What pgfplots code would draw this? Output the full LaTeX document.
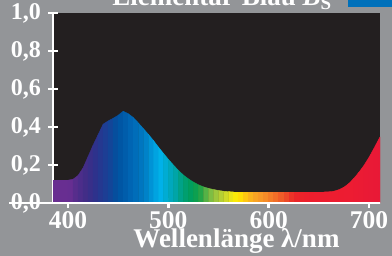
\documentclass[border=0pt]{standalone}
\usepackage{fontspec}
\setmainfont{Liberation Serif}
\usepackage{pgfplots}
\usepgfplotslibrary{patchplots}
\pgfplotsset{compat=1.18}
\definecolor{bggray}{RGB}{147,149,152}
\definecolor{plotbg}{RGB}{35,31,32}
\definecolor{legblue}{RGB}{0,112,186}
\newcommand{\chf}{\fontsize{24bp}{28bp}\selectfont\bfseries}
\newcommand{\chx}{\fontsize{25.5bp}{28bp}\selectfont\bfseries}
\newcommand{\chl}{\fontsize{27bp}{30bp}\selectfont\bfseries}
\begin{document}
\begin{tikzpicture}
\useasboundingbox (0,0) rectangle (392bp,256bp);
\clip (0,0) rectangle (392bp,256bp);
\fill[bggray] (0,0) rectangle (392bp,256bp);
\fill[legblue] (348bp,249bp) rectangle (392bp,256bp);
\node[text=white, font=\chl, anchor=base, inner sep=0pt] at (222bp,250bp) {Elementar-Blau \textit{B}\textsubscript{S}};
\begin{axis}[
  at={(53bp,53bp)}, anchor=south west,
  scale only axis, width=327bp, height=190bp,
  xmin=385, xmax=711, ymin=0, ymax=1,
  axis background/.style={fill=plotbg},
  axis x line=bottom, axis y line=left,
  axis line style={-, white, line width=2.5bp},
  xtick={400,500,600,700}, ytick={0,0.2,0.4,0.6,0.8,1.0},
  tick style={white, line width=2.5bp},
  major tick length=10bp, tick align=center,
  ticklabel style={text=white, inner sep=0pt},
  /pgf/number format/assume math mode=true,
  y tick label style={font=\chf, /pgf/number format/.cd, fixed, fixed zerofill, precision=1, use comma},
  x tick label style={font=\chx, /pgf/number format/.cd, 1000 sep={}},
  xticklabel shift=3bp, yticklabel shift=7bp,
  xlabel={Wellenlänge λ/nm},
  every axis x label/.style={at={(axis description cs:0.5,0)}, anchor=base, yshift=-44.7bp, xshift=20bp, font=\chl, text=white, inner sep=0pt},
  colormap={spec}{
    rgb255(385)=(104,46,145) rgb255(402)=(104,46,145) rgb255(408)=(85,45,140)
    rgb255(418)=(65,45,135) rgb255(428)=(45,50,140) rgb255(440)=(25,65,150)
    rgb255(450)=(0,82,160) rgb255(462)=(0,100,178) rgb255(475)=(0,122,195)
    rgb255(485)=(0,155,220) rgb255(492)=(0,178,235) rgb255(500)=(0,170,200)
    rgb255(508)=(0,165,165) rgb255(515)=(0,160,120) rgb255(525)=(0,158,85)
    rgb255(533)=(40,165,70) rgb255(540)=(110,185,70) rgb255(548)=(160,200,60)
    rgb255(556)=(200,215,45) rgb255(564)=(240,232,20) rgb255(570)=(255,235,0)
    rgb255(576)=(255,205,15) rgb255(585)=(250,170,35) rgb255(595)=(247,148,40)
    rgb255(605)=(242,118,40) rgb255(615)=(238,85,40) rgb255(625)=(235,40,40)
    rgb255(640)=(237,30,45) rgb255(680)=(237,28,50) rgb255(711)=(232,25,55)
  },
  point meta min=385, point meta max=711,
  clip=false,
]
\addplot[patch, patch type=rectangle, mesh input=lattice, mesh/cols=67, shader=flat mean, point meta=x] table {
x y
385 0
390 0
395 0
400 0
405 0
410 0
415 0
420 0
425 0
430 0
435 0
440 0
445 0
450 0
455 0
460 0
465 0
470 0
475 0
480 0
485 0
490 0
495 0
500 0
505 0
510 0
515 0
520 0
525 0
530 0
535 0
540 0
545 0
550 0
555 0
560 0
565 0
570 0
575 0
580 0
585 0
590 0
595 0
600 0
605 0
610 0
615 0
620 0
625 0
630 0
635 0
640 0
645 0
650 0
655 0
660 0
665 0
670 0
675 0
680 0
685 0
690 0
695 0
700 0
705 0
710 0
711 0
385 0.120
390 0.120
395 0.120
400 0.120
405 0.125
410 0.145
415 0.185
420 0.245
425 0.305
430 0.360
435 0.415
440 0.432
445 0.446
450 0.462
455 0.483
460 0.470
465 0.450
470 0.422
475 0.392
480 0.362
485 0.330
490 0.295
495 0.262
500 0.230
505 0.200
510 0.172
515 0.147
520 0.127
525 0.110
530 0.096
535 0.085
540 0.077
545 0.071
550 0.066
555 0.062
560 0.060
565 0.058
570 0.058
575 0.058
580 0.058
585 0.058
590 0.058
595 0.058
600 0.058
605 0.058
610 0.058
615 0.058
620 0.058
625 0.058
630 0.058
635 0.058
640 0.058
645 0.058
650 0.058
655 0.058
660 0.059
665 0.062
670 0.070
675 0.083
680 0.103
685 0.130
690 0.162
695 0.198
700 0.240
705 0.288
710 0.338
711 0.348
};
\draw[white, line width=2.5bp] (rel axis cs:0,0) -- (rel axis cs:1,0) -- ++(15bp,0);
\end{axis}
\end{tikzpicture}
\end{document}
